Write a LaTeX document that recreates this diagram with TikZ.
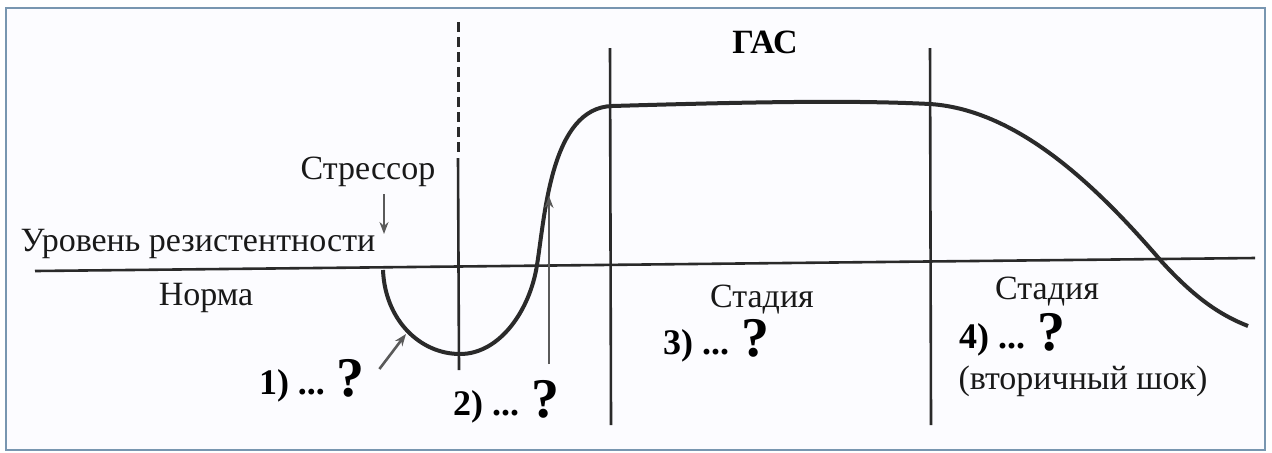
\documentclass[tikz,border=0pt]{standalone}
\usepackage{fontspec}
\setmainfont{Liberation Serif}
\usepackage{tikz}
\usetikzlibrary{arrows.meta, positioning}
\definecolor{Frame}   {HTML}{7896B0}
\definecolor{Ink}     {HTML}{2A2A2A}
\definecolor{Pointer} {HTML}{5A5A5A}

\tikzset{
  lbl/.style={font=\fontsize{17}{20}\selectfont, text=black!90, inner sep=1pt},
  qlbl/.style={font=\bfseries\fontsize{18}{20}\selectfont, text=black, inner sep=1pt},
  qmark/.style={font=\bfseries\fontsize{28}{30}\selectfont},
  curve/.style={Ink, line width=2pt},
  axis/.style={Ink, line width=1.3pt},
  pointer/.style={Pointer, line width=1.3pt, -{Stealth[length=6pt, width=4.5pt]}}
}

\begin{document}
\begin{tikzpicture}[x=0.5pt, y=-0.5pt]
  \useasboundingbox (0,0) rectangle (1272,452);
  % frame
  \draw[Frame, line width=1.2pt, fill=blue!1] (6,8) rectangle (1265,450);
  % resistance level and stage borders
  \draw[axis] (35,271) -- (1255,258);
  \draw[axis, line width=1.5pt, dash pattern=on 5pt off 2.5pt] (458,22) -- (458,154);
  \draw[axis] (458,158) -- (459,370);
  \draw[axis] (610,48) -- (611,425);
  \draw[axis] (930,48) -- (931,425);
  % resistance curve
  \draw[curve] (383,270) .. controls (385,320) and (420,354) .. (460,354)
    .. controls (500,354) and (530,310) .. (537,265)
    .. controls (545,215) and (551,108) .. (612,106)
    .. controls (750,102) and (850,100) .. (930,104)
    .. controls (1020,110) and (1100,190) .. (1162,262)
    .. controls (1195,298) and (1220,315) .. (1248,326);
  % labels
  \node[qlbl, font=\bfseries\fontsize{17}{20}\selectfont] (gas) at (765,42) {ГАС};
  \node[lbl] (level) at (198,244) {Уровень резистентности};
  \node[lbl] (norm) at (206,298) {Норма};
  \node[lbl] (stressor) at (368,172) {Стрессор};
  \coordinate (stip) at (384,234);
  \draw[pointer] (384,194) -- (stip);
  % stages
  \node[qlbl] (q1) at (312,381) {1) ... \raisebox{-1pt}{\tikz[baseline]\node[qmark, inner sep=0pt, anchor=base]{?};}};
  \coordinate (q1tip) at (406,334);
  \draw[pointer] (q1.east) ++(12,-12) -- (q1tip);
  \node[qlbl] (q2) at (506,402) {2) ... \raisebox{-1pt}{\tikz[baseline]\node[qmark, inner sep=0pt, anchor=base]{?};}};
  \coordinate (q2tip) at (549,196);
  \draw[pointer] (549,364) -- (q2tip);
  \node[lbl] (st3) at (762,300) {Стадия};
  \node[qlbl] (q3) at (716,341) {3) ... \raisebox{-1pt}{\tikz[baseline]\node[qmark, inner sep=0pt, anchor=base]{?};}};
  \node[lbl] (st4) at (1047,292) {Стадия};
  \node[qlbl] (q4) at (1012,335) {4) ... \raisebox{-1pt}{\tikz[baseline]\node[qmark, inner sep=0pt, anchor=base]{?};}};
  \node[lbl] (shock) at (1083,381) {(вторичный шок)};
\end{tikzpicture}
\end{document}
